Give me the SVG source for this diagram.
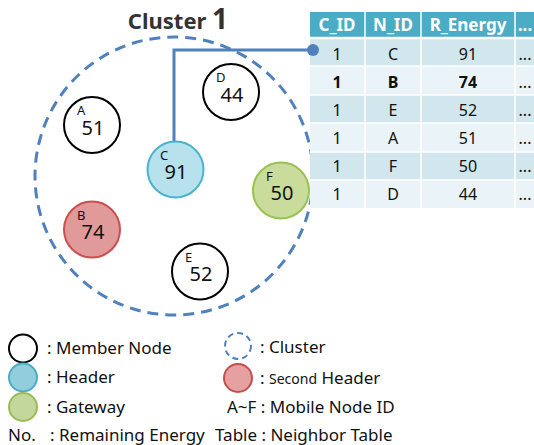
<svg xmlns="http://www.w3.org/2000/svg" width="534" height="445" viewBox="0 0 534 445">
<style>
text{font-family:"Noto Sans","Open Sans",sans-serif;fill:#111}
.lt{font-size:13px}
.num{font-size:20px;text-anchor:middle}
.mem{fill:#fff;stroke:#000;stroke-width:2}
.hdr{fill:#b7e1ec;stroke:#4bb3cf;stroke-width:2}
.gw{fill:#c9dc9c;stroke:#9bc150;stroke-width:2}
.sec{fill:#e09a9a;stroke:#cc4f4f;stroke-width:2}
.clu{fill:none;stroke:#4f81bd;stroke-width:3;stroke-dasharray:11 7}
.th{fill:#fff;font-weight:bold;font-size:17px;text-anchor:middle}
.td{font-size:16px;text-anchor:middle}
.lg{font-size:17px}
.dk{fill:#d2e6ee}
.lt2{fill:#eaf3f7}
</style>
<text x="178" y="29" text-anchor="middle" style="font-size:22px;font-weight:bold;fill:#333">Cluster <tspan style="font-size:28px">1</tspan></text>
<circle class="clu" cx="174" cy="176" r="139"/>
<g id="table">
<rect x="310" y="12" width="224" height="26" fill="#4bacc6"/>
<rect class="dk" x="310" y="38" width="224" height="28"/>
<rect class="lt2" x="310" y="66" width="224" height="29"/>
<rect class="dk" x="310" y="95" width="224" height="28"/>
<rect class="lt2" x="310" y="123" width="224" height="29"/>
<rect class="dk" x="310" y="152" width="224" height="28"/>
<rect class="lt2" x="310" y="180" width="224" height="28"/>
<g stroke="#fff" stroke-width="1.5">
<line x1="365" y1="12" x2="365" y2="208"/><line x1="421" y1="12" x2="421" y2="208"/><line x1="515" y1="12" x2="515" y2="208"/>
<line x1="310" y1="38" x2="534" y2="38" stroke-width="2.5"/><line x1="310" y1="66" x2="534" y2="66"/><line x1="310" y1="95" x2="534" y2="95"/><line x1="310" y1="123" x2="534" y2="123"/><line x1="310" y1="152" x2="534" y2="152"/><line x1="310" y1="180" x2="534" y2="180"/>
</g>
<text class="th" x="337" y="31">C_ID</text><text class="th" x="393" y="31">N_ID</text><text class="th" x="468" y="31">R_Energy</text><text class="th" x="525" y="31">...</text>
<text class="td" x="337" y="60">1</text><text class="td" x="393" y="60">C</text><text class="td" x="468" y="60">91</text><text class="td" x="525" y="60">...</text>
<text class="td" x="337" y="88" font-weight="bold">1</text><text class="td" x="393" y="88" font-weight="bold">B</text><text class="td" x="468" y="88" font-weight="bold">74</text><text class="td" x="525" y="88">...</text>
<text class="td" x="337" y="116">1</text><text class="td" x="393" y="116">E</text><text class="td" x="468" y="116">52</text><text class="td" x="525" y="116">...</text>
<text class="td" x="337" y="144">1</text><text class="td" x="393" y="144">A</text><text class="td" x="468" y="144">51</text><text class="td" x="525" y="144">...</text>
<text class="td" x="337" y="172">1</text><text class="td" x="393" y="172">F</text><text class="td" x="468" y="172">50</text><text class="td" x="525" y="172">...</text>
<text class="td" x="337" y="200">1</text><text class="td" x="393" y="200">D</text><text class="td" x="468" y="200">44</text><text class="td" x="525" y="200">...</text>
</g>
<g id="connectors">
<polyline points="174,143 174,50 313,50" fill="none" stroke="#4f81bd" stroke-width="3"/>
<circle cx="313" cy="50" r="6" fill="#4f81bd"/>
</g>
<g id="nodeA"><circle class="mem" cx="92" cy="125" r="28"/><text class="lt" x="77" y="115">A</text><text class="num" x="93" y="135">51</text></g>
<g id="nodeD"><circle class="mem" cx="231" cy="92" r="28"/><text class="lt" x="216" y="82">D</text><text class="num" x="232" y="102">44</text></g>
<g id="nodeC"><circle class="hdr" cx="175.5" cy="169.5" r="28"/><text class="lt" x="160" y="160">C</text><text class="num" x="176" y="179">91</text></g>
<g id="nodeF"><circle class="gw" cx="281" cy="190.5" r="28"/><text class="lt" x="266" y="181">F</text><text class="num" x="282" y="200">50</text></g>
<g id="nodeB"><circle class="sec" cx="92" cy="229.5" r="28"/><text class="lt" x="77" y="220">B</text><text class="num" x="93" y="239">74</text></g>
<g id="nodeE"><circle class="mem" cx="200" cy="271.5" r="28"/><text class="lt" x="185" y="262">E</text><text class="num" x="201" y="281">52</text></g>
<g id="legend">
<circle class="mem" cx="23" cy="348.5" r="14"/><text class="lg" x="47" y="354">: Member Node</text>
<circle cx="23" cy="377.5" r="14" fill="#92cddc" stroke="#4bacc6" stroke-width="2"/><text class="lg" x="47" y="383">: Header</text>
<circle cx="23" cy="407" r="14" fill="#c3d69b" stroke="#9bbb59" stroke-width="2"/><text class="lg" x="47" y="413">: Gateway</text>
<text class="lg" x="8" y="441">No.</text><text class="lg" x="50" y="441">: Remaining Energy</text>
<circle cx="238" cy="346" r="13" fill="none" stroke="#4f81bd" stroke-width="2" stroke-dasharray="6 4"/><text class="lg" x="260" y="353">: Cluster</text>
<circle cx="238" cy="378" r="14" fill="#e6a0a0" stroke="#c0504d" stroke-width="2"/><text class="lg" x="260" y="384">: <tspan style="font-size:14px">Second</tspan> Header</text>
<text class="lg" x="227" y="413">A~F : Mobile Node ID</text>
<text class="lg" x="215" y="441">Table : Neighbor Table</text>
</g>
</svg>
